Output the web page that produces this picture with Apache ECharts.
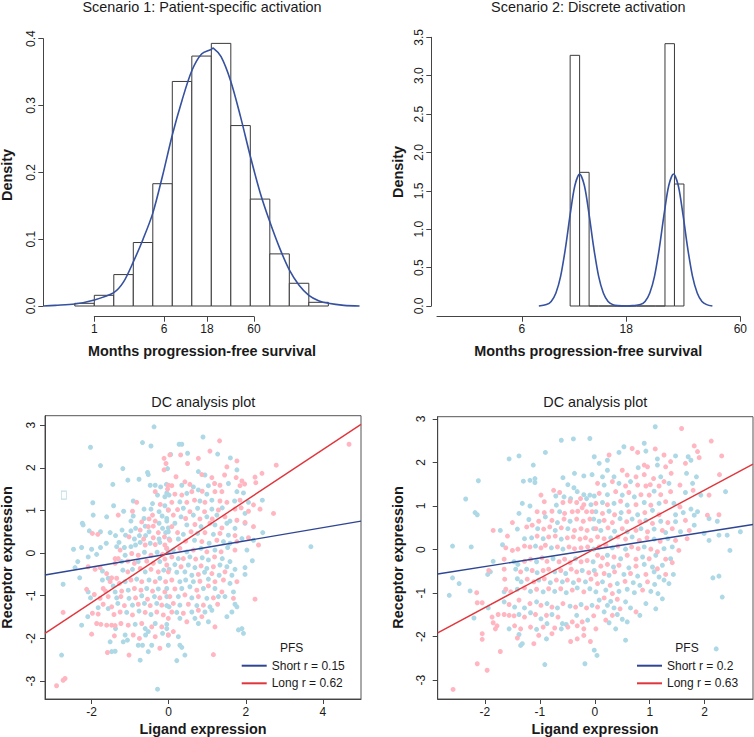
<!DOCTYPE html>
<html><head><meta charset="utf-8">
<script src="https://cdn.jsdelivr.net/npm/echarts@6/dist/echarts.min.js"></script>
<style>html,body{margin:0;padding:0;background:#fff}#c{width:754px;height:737px}</style>
</head><body><div id="c"></div>
<script>
// ---------- DATA ----------
// Scenario 1 histogram (x = ln(months))
const s1Breaks = [-0.5,0,0.5,1,1.5,2,2.5,3,3.5,4,4.5,5,5.5,6];
const s1Density = [0.004,0.016,0.047,0.095,0.183,0.336,0.374,0.393,0.270,0.160,0.078,0.034,0.0055];
const s1Curve = [[-1.3,0],[-1.0,0.001],[-0.5,0.003],[0,0.009],[0.5,0.020],[0.75,0.036],[1.0,0.066],[1.25,0.100],[1.5,0.139],[1.75,0.195],[2.0,0.256],[2.25,0.308],[2.5,0.352],[2.75,0.377],[3.0,0.384],[3.05,0.386],[3.25,0.373],[3.5,0.336],[3.75,0.283],[4.0,0.224],[4.25,0.170],[4.5,0.126],[4.75,0.087],[5.0,0.054],[5.25,0.031],[5.5,0.016],[5.75,0.008],[6.0,0.004],[6.4,0.001],[6.8,0]];
const s1Ticks = [1,6,18,60];
// Scenario 2 histogram
const s2Breaks = [2.3,2.4,2.5,2.6,2.7,2.8,2.9,3.0,3.1,3.2,3.3,3.4,3.5];
const s2Density = [3.265,1.741,0,0,0,0,0,0,0,0,3.417,1.589];
const s2Curve = [[1.97,0],[2.05,0.018],[2.10,0.06],[2.15,0.17],[2.20,0.39],[2.25,0.75],[2.30,1.19],[2.35,1.57],[2.40,1.72],[2.45,1.57],[2.50,1.19],[2.55,0.75],[2.60,0.39],[2.65,0.17],[2.70,0.06],[2.75,0.018],[2.80,0.005],[2.90,0],[2.96,0.005],[3.04,0.018],[3.09,0.06],[3.14,0.17],[3.19,0.39],[3.24,0.75],[3.29,1.19],[3.34,1.57],[3.39,1.72],[3.44,1.57],[3.49,1.19],[3.54,0.75],[3.59,0.39],[3.64,0.17],[3.69,0.06],[3.74,0.018],[3.80,0]];
const s2Ticks = [6,18,60];
const s1YTicks = [0,0.1,0.2,0.3,0.4];
const s2YTicks = [0,0.5,1,1.5,2,2.5,3,3.5];
// DC plot 1
const blXTicks = [-2,0,2,4];
const blYTicks = [-3,-2,-1,0,1,2,3];
const blShort = [[-0.38,2.96],[-0.68,2.59],[-0.46,2.51],[-2.03,2.48],[-1.77,2.05],[-1.19,1.98],[-0.55,1.89],[-0.53,1.84],[-1.06,1.71],[-0.77,1.73],[-1.45,1.61],[-0.48,1.59],[-0.35,1.59],[-0.21,1.55],[-0.06,1.61],[-0.29,1.36],[-0.10,1.32],[0.01,1.36],[-0.92,1.22],[-1.97,1.18],[-0.42,1.16],[-0.10,1.11],[-1.43,1.11],[-1.17,0.98],[-0.64,1.03],[-0.46,1.03],[-0.25,0.97],[-0.01,1.01],[-1.96,0.89],[-1.61,0.85],[-0.92,0.87],[-0.64,0.81],[-0.17,0.87],[-2.24,0.70],[-2.22,0.66],[-0.98,0.75],[-0.25,0.70],[-0.05,0.75],[-0.61,0.63],[-0.16,0.58],[-0.01,0.59],[-2.06,0.52],[-1.77,0.50],[-1.52,0.48],[-1.21,0.54],[-0.98,0.52],[-0.86,0.58],[-0.51,0.50],[-0.08,0.48],[-1.62,0.23],[-1.38,0.41],[-1.29,0.25],[-1.12,0.42],[-0.89,0.33],[-0.76,0.41],[-0.60,0.41],[-0.25,0.33],[0.01,0.33],[-2.47,0.09],[-2.26,0.13],[-2.00,0.09],[-1.77,0.13],[-1.35,0.15],[-1.15,0.13],[-0.98,0.15],[-0.86,0.19],[-0.74,0.25],[-0.48,0.23],[-0.23,0.25],[-0.05,0.11],[-1.87,-0.03],[-2.09,-0.09],[-1.13,-0.05],[-0.63,0.02],[-0.30,0.02],[-0.01,0.03],[-2.36,-0.20],[-2.43,-0.34],[-1.22,-0.20],[-0.79,-0.20],[-0.23,-0.20],[-2.31,-0.58],[-1.72,-0.42],[-1.57,-0.59],[-1.19,-0.40],[-0.94,-0.38],[-0.61,-0.44],[-0.13,-0.40],[0.01,-0.38],[-2.74,-0.73],[-1.72,-0.63],[-1.44,-0.77],[-1.13,-0.67],[-0.83,-0.61],[-0.51,-0.63],[-0.23,-0.59],[-2.09,-0.91],[-1.39,-0.91],[-1.05,-0.87],[-0.57,-0.83],[-0.27,-0.84],[-2.03,-1.05],[-1.35,-1.05],[-1.03,-1.06],[-0.70,-1.00],[-0.37,-1.02],[-0.05,-1.02],[-1.83,-1.28],[-1.32,-1.18],[-0.94,-1.22],[-0.63,-1.18],[-0.31,-1.18],[0.01,-1.26],[-2.10,-1.49],[-1.57,-1.30],[-1.09,-1.39],[-0.77,-1.36],[-0.46,-1.44],[-2.26,-1.69],[-1.38,-1.77],[-0.87,-1.67],[-0.61,-1.77],[-0.35,-1.65],[-0.05,-1.67],[-1.13,-1.92],[-1.18,-2.08],[-1.07,-2.04],[-0.60,-1.92],[-0.53,-1.84],[-0.16,-1.88],[-1.52,-2.08],[-1.48,-2.31],[-1.39,-2.30],[-0.79,-2.16],[-0.68,-2.16],[-0.44,-2.16],[-0.01,-2.16],[-2.78,-2.39],[-0.74,-2.51],[-0.53,-2.31],[-0.29,-3.19],
[0.89,2.72],[0.27,2.55],[0.34,2.55],[0.05,2.31],[0.49,2.34],[1.27,2.32],[1.60,2.23],[0.77,1.91],[0.94,1.83],[1.77,1.95],[-0.03,1.98],[0.34,1.59],[0.64,1.55],[1.03,1.58],[1.55,1.63],[-0.05,1.41],[0.47,1.40],[0.77,1.48],[0.99,1.38],[1.77,1.44],[1.94,1.41],[0.29,1.20],[0.81,1.22],[1.12,1.24],[1.71,1.22],[2.07,1.19],[2.43,1.24],[0.38,1.05],[0.75,1.05],[1.12,1.03],[1.39,1.06],[1.98,0.93],[-0.05,0.81],[0.32,0.85],[0.64,0.89],[0.99,0.85],[1.25,0.89],[1.59,0.75],[0.16,0.70],[0.47,0.66],[0.84,0.62],[1.20,0.66],[1.51,0.70],[1.72,0.58],[1.98,0.70],[2.44,0.48],[-0.01,0.50],[0.38,0.44],[0.75,0.46],[1.16,0.44],[1.55,0.42],[1.90,0.34],[2.20,0.30],[0.25,0.33],[0.67,0.30],[1.05,0.23],[1.42,0.27],[1.59,0.23],[2.03,0.07],[3.69,0.15],[0.12,0.07],[0.47,0.03],[0.84,0.11],[1.20,0.07],[1.53,0.13],[0.25,-0.13],[0.55,-0.09],[0.87,-0.11],[1.03,-0.16],[1.39,-0.13],[1.59,-0.20],[2.17,-0.18],[0.16,-0.27],[0.51,-0.28],[0.68,-0.34],[0.99,-0.36],[1.33,-0.28],[1.51,-0.32],[1.72,-0.38],[1.98,-0.34],[0.21,-0.45],[0.42,-0.44],[0.60,-0.52],[0.93,-0.45],[1.31,-0.52],[1.64,-0.52],[1.98,-0.50],[0.29,-0.67],[0.44,-0.63],[0.64,-0.67],[1.03,-0.61],[1.59,-0.71],[-0.05,-0.83],[0.34,-0.83],[0.55,-0.79],[0.90,-0.83],[1.20,-0.83],[1.68,-0.91],[0.25,-1.02],[0.60,-1.05],[0.99,-1.06],[1.29,-1.02],[1.46,-1.02],[-0.05,-1.23],[0.29,-1.22],[0.73,-1.23],[1.07,-1.26],[1.72,-1.20],[1.77,-1.26],[0.21,-1.39],[0.60,-1.38],[0.94,-1.38],[1.12,-1.34],[1.51,-1.49],[1.64,-1.38],[0.29,-1.53],[0.68,-1.53],[1.03,-1.61],[0.77,-1.65],[1.90,-1.77],[1.81,-1.80],[1.94,-1.88],[-0.05,-1.77],[-0.01,-1.92],[0.25,-1.96],[0.29,-2.16],[0.34,-2.21],[0.42,-2.39],[0.21,-2.52]];
const blLong = [[-0.12,2.22],[0.03,2.30],[-0.12,1.95],[-0.35,1.44],[-0.03,1.50],[-0.83,1.19],[-0.22,1.14],[-0.94,0.98],[-0.42,0.89],[-1.31,0.89],[-0.51,0.80],[-0.70,0.73],[-0.35,0.75],[-0.53,0.62],[-0.40,0.63],[-1.98,0.46],[-1.84,0.44],[-0.74,0.54],[-0.27,0.48],[-1.03,0.38],[-0.65,0.33],[-0.40,0.36],[-0.11,0.38],[-1.26,0.07],[-0.61,0.19],[-0.35,0.20],[-0.10,0.19],[-1.39,-0.13],[-1.31,-0.13],[-0.96,-0.01],[-0.79,-0.05],[-0.46,-0.05],[-0.16,-0.03],[-2.09,-0.32],[-1.91,-0.38],[-1.78,-0.34],[-1.39,-0.24],[-1.06,-0.19],[-0.89,-0.24],[-0.57,-0.19],[-0.40,-0.24],[-0.10,-0.14],[-1.61,-0.48],[-1.48,-0.58],[-1.35,-0.59],[-1.06,-0.44],[-0.74,-0.36],[-0.46,-0.38],[-0.27,-0.44],[-1.52,-0.67],[-1.28,-0.71],[-0.98,-0.63],[-0.70,-0.67],[-0.35,-0.67],[-0.08,-0.67],[-2.13,-0.85],[-1.70,-0.83],[-1.64,-0.89],[-1.22,-0.89],[-0.89,-0.83],[-0.72,-0.87],[-0.42,-0.89],[-0.10,-0.91],[-1.93,-0.97],[-1.78,-1.06],[-1.57,-1.02],[-1.24,-1.02],[-0.86,-1.05],[-0.55,-1.08],[-0.23,-1.05],[-1.70,-1.20],[-1.48,-1.26],[-1.15,-1.23],[-0.79,-1.20],[-0.48,-1.23],[-0.18,-1.22],[-2.74,-1.39],[-1.98,-1.41],[-1.83,-1.43],[-1.42,-1.44],[-1.26,-1.38],[-0.94,-1.45],[-0.61,-1.39],[-0.31,-1.38],[-0.14,-1.45],[-1.87,-1.65],[-1.76,-1.67],[-1.61,-1.69],[-1.48,-1.69],[-1.39,-1.70],[-1.24,-1.65],[-1.05,-1.69],[-0.70,-1.65],[-0.44,-1.73],[-0.18,-1.73],[-2.00,-1.90],[-1.41,-1.94],[-0.92,-1.92],[-0.76,-2.00],[-0.35,-1.96],[-0.01,-1.92],[-1.59,-2.33],[-0.23,-2.23],[-1.03,-2.39],[-2.69,-2.94],[-2.74,-2.98],[-2.91,-3.11],
[1.32,2.63],[4.68,2.55],[0.31,2.30],[1.07,2.39],[0.77,2.22],[0.49,2.10],[-0.07,2.10],[1.77,2.16],[0.86,1.84],[1.51,2.02],[1.45,1.83],[1.12,1.77],[1.75,1.77],[1.90,1.69],[2.24,1.78],[2.42,1.87],[2.79,2.06],[0.19,1.79],[-0.01,1.59],[0.08,1.58],[0.42,1.67],[0.55,1.61],[1.19,1.63],[1.33,1.59],[1.85,1.58],[1.97,1.62],[2.26,1.65],[0.16,1.38],[0.34,1.36],[0.60,1.44],[0.87,1.45],[1.20,1.44],[1.38,1.44],[0.08,1.19],[0.47,1.19],[0.67,1.24],[0.94,1.19],[1.33,1.22],[1.51,1.19],[1.85,1.24],[2.20,1.13],[-0.01,1.01],[0.23,1.02],[0.55,0.97],[0.93,0.97],[1.29,1.01],[1.72,1.03],[1.88,1.06],[2.07,0.98],[2.37,1.03],[2.72,0.93],[0.12,0.89],[0.44,0.81],[0.81,0.80],[1.13,0.80],[1.46,0.85],[1.77,0.77],[1.98,0.72],[0.08,0.62],[0.68,0.67],[1.07,0.70],[1.38,0.59],[2.20,0.62],[0.23,0.48],[0.58,0.50],[0.94,0.48],[1.33,0.46],[1.72,0.41],[2.07,0.36],[0.03,0.30],[0.44,0.28],[0.86,0.27],[1.25,0.30],[1.77,0.27],[2.33,0.19],[-0.05,0.11],[0.29,0.11],[0.64,0.07],[0.99,0.03],[1.36,0.03],[1.72,0.07],[0.08,-0.09],[0.38,-0.13],[0.70,-0.14],[1.19,-0.09],[-0.05,-0.28],[0.32,-0.32],[0.84,-0.30],[1.16,-0.32],[-0.01,-0.44],[0.77,-0.50],[1.12,-0.48],[1.46,-0.44],[0.08,-0.63],[0.81,-0.66],[1.20,-0.67],[1.42,-0.63],[1.77,-0.67],[0.16,-0.84],[0.73,-0.87],[1.03,-0.77],[1.38,-0.91],[0.03,-1.02],[0.42,-0.98],[0.77,-1.02],[1.16,-1.05],[1.68,-1.06],[0.12,-1.18],[0.51,-1.20],[0.90,-1.22],[1.27,-1.20],[2.24,-1.08],[0.08,-1.38],[0.38,-1.41],[0.77,-1.34],[-0.01,-1.53],[0.47,-1.61],[0.86,-1.49],[1.20,-1.73],[0.12,-1.84],[1.16,-2.38]];
const blStray = [[-2.72,1.36]];
const blLineShort = [[-3.21,-0.515],[4.99,0.75]];
const blLineLong = [[-3.21,-1.88],[4.99,3.016]];
const blNames = ['Short r = 0.15','Long r = 0.62'];
// DC plot 2
const brXTicks = [-2,-1,0,1,2];
const brYTicks = [-3,-2,-1,0,1,2,3];
const brShort = [[-0.61,2.51],[-0.39,2.54],[-0.09,2.55],[-0.90,2.23],[-1.56,2.08],[-1.38,2.15],[-0.01,2.13],[-1.12,1.94],[-2.12,1.58],[-0.58,1.65],[-0.37,1.75],[-0.20,1.69],[-0.05,1.72],[-1.30,1.57],[-1.18,1.59],[-1.09,1.63],[-1.09,1.54],[-0.49,1.49],[-0.38,1.42],[-0.32,1.33],[-0.20,1.26],[-0.09,1.25],[-0.01,1.23],[-2.35,1.16],[-0.71,1.23],[-0.56,1.21],[-0.44,1.17],[-0.15,1.17],[-1.32,1.06],[-1.18,1.00],[-0.70,1.02],[-0.07,1.03],[-2.18,0.85],[-2.14,0.80],[-1.38,0.83],[-0.64,0.87],[-1.20,0.69],[-0.90,0.75],[-0.68,0.62],[-0.45,0.65],[-0.02,0.70],[-1.72,0.44],[-1.41,0.47],[-1.04,0.48],[-0.72,0.44],[-0.49,0.48],[-0.02,0.48],[-1.28,0.25],[-1.15,0.27],[-0.94,0.25],[-0.61,0.24],[-2.59,0.08],[-2.25,0.06],[-1.68,0.11],[-1.08,0.08],[-0.79,0.04],[-0.58,0.01],[-0.02,0.01],[-1.85,-0.27],[-1.95,-0.57],[-1.90,-0.51],[-1.47,-0.28],[-1.40,-0.34],[-1.06,-0.28],[-0.76,-0.21],[-0.35,-0.21],[-0.03,-0.28],[-2.59,-0.65],[-2.47,-0.78],[-2.65,-1.05],[-1.44,-0.45],[-1.24,-0.45],[-1.05,-0.53],[-0.73,-0.51],[-0.53,-0.55],[-0.23,-0.48],[-0.01,-0.48],[-1.41,-0.67],[-1.34,-0.74],[-1.02,-0.70],[-0.81,-0.76],[-0.59,-0.74],[-0.39,-0.76],[-0.17,-0.74],[-2.27,-0.95],[-1.65,-0.97],[-1.41,-0.91],[-1.17,-0.96],[-0.94,-0.97],[-0.73,-0.96],[-0.52,-0.99],[-0.32,-0.88],[-0.09,-0.90],[-1.94,-1.34],[-1.65,-1.20],[-1.46,-1.32],[-1.28,-1.34],[-1.06,-1.20],[-0.87,-1.24],[-0.68,-1.34],[-0.45,-1.30],[-0.25,-1.26],[-0.05,-1.28],[-2.20,-1.57],[-1.56,-1.82],[-1.38,-1.49],[-1.17,-1.45],[-0.98,-1.59],[-0.78,-1.49],[-0.59,-1.70],[-0.52,-1.72],[-0.33,-1.51],[-0.13,-1.62],[-1.06,-1.83],[-0.87,-1.70],[-0.61,-1.82],[-1.38,-1.95],[-1.32,-2.16],[-1.35,-2.20],[-0.88,-2.05],[-0.01,-2.31],[-0.91,-2.64],[-0.18,-2.62],
[1.10,2.82],[0.90,2.44],[0.53,2.36],[0.93,2.26],[0.44,2.23],[1.47,2.15],[1.70,2.13],[0.23,2.05],[0.08,1.98],[1.14,2.08],[0.23,1.82],[0.79,1.88],[1.14,1.94],[1.75,2.05],[0.14,1.67],[0.35,1.67],[1.20,1.67],[1.67,1.75],[1.85,1.67],[0.17,1.48],[0.44,1.52],[0.65,1.56],[1.35,1.52],[1.78,1.52],[1.93,1.25],[0.23,1.26],[0.50,1.25],[0.72,1.21],[1.08,1.34],[1.65,1.31],[2.38,1.33],[0.14,1.08],[0.35,1.06],[0.59,1.02],[0.90,1.08],[1.17,1.06],[1.44,1.06],[1.75,0.93],[1.87,0.87],[0.02,0.87],[0.26,0.88],[0.48,0.85],[0.78,0.80],[1.05,0.90],[1.47,0.80],[1.61,0.85],[1.81,0.79],[0.08,0.65],[0.46,0.71],[0.68,0.70],[0.93,0.67],[1.20,0.65],[1.47,0.64],[1.81,0.56],[2.08,0.71],[2.23,0.65],[0.11,0.44],[0.36,0.42],[0.59,0.41],[0.84,0.48],[1.08,0.47],[1.29,0.39],[1.56,0.41],[1.99,0.37],[2.08,0.21],[2.26,0.33],[2.41,0.33],[2.65,0.41],[0.29,0.27],[0.68,0.29],[1.08,0.24],[1.33,0.25],[0.32,0.04],[0.56,0.01],[0.90,0.06],[1.26,0.02],[1.41,0.06],[2.46,-0.02],[0.23,-0.13],[0.47,-0.21],[0.87,-0.17],[1.11,-0.13],[1.38,-0.21],[0.34,-0.40],[0.62,-0.42],[0.90,-0.34],[1.05,-0.40],[1.23,-0.36],[0.26,-0.59],[0.53,-0.57],[0.78,-0.61],[1.08,-0.51],[1.17,-0.63],[1.43,-0.57],[2.15,-0.65],[2.26,-0.61],[0.14,-0.74],[0.41,-0.78],[0.70,-0.76],[0.82,-0.82],[1.09,-0.80],[1.26,-0.70],[1.35,-0.78],[0.02,-0.97],[0.20,-0.93],[0.44,-0.96],[0.59,-0.91],[0.72,-0.99],[1.02,-0.96],[1.15,-1.01],[2.32,-1.09],[0.08,-1.16],[0.29,-1.19],[0.56,-1.20],[0.93,-1.24],[1.23,-1.13],[0.23,-1.28],[0.35,-1.34],[0.65,-1.34],[0.82,-1.51],[1.11,-1.36],[0.17,-1.43],[0.41,-1.49],[0.50,-1.60],[0.59,-1.66],[0.26,-1.68],[0.38,-1.82],[0.56,-2.08],[0.04,-2.43],[2.21,-2.28]];
const brLong = [[-0.75,1.36],[-0.64,1.31],[-0.98,1.25],[-0.26,1.17],[-0.92,1.10],[-0.58,1.08],[-0.45,1.11],[-0.33,1.08],[-0.20,1.03],[-0.23,0.96],[-1.05,0.87],[-0.92,0.85],[-0.78,0.88],[-0.55,0.83],[-0.41,0.87],[-0.31,0.88],[-0.15,0.87],[-0.05,0.87],[-1.02,0.65],[-0.78,0.67],[-0.56,0.70],[-0.33,0.70],[-0.21,0.65],[-0.09,0.70],[-1.50,0.62],[-1.85,0.44],[-1.24,0.52],[-1.14,0.56],[-0.93,0.47],[-0.82,0.52],[-0.61,0.50],[-0.37,0.44],[-0.25,0.48],[-0.14,0.44],[-1.59,0.31],[-1.05,0.31],[-0.84,0.29],[-0.72,0.31],[-0.50,0.27],[-0.39,0.29],[-0.27,0.24],[-0.17,0.27],[-0.07,0.21],[-1.62,0.04],[-1.50,-0.02],[-1.40,0.01],[-1.28,0.08],[-1.18,0.06],[-0.98,0.04],[-0.90,0.10],[-0.68,0.06],[-0.47,0.06],[-0.37,0.02],[-0.25,0.04],[-0.13,0.06],[-1.93,-0.48],[-1.65,-0.22],[-1.28,-0.27],[-1.17,-0.22],[-0.96,-0.19],[-0.87,-0.27],[-0.65,-0.28],[-0.55,-0.22],[-0.45,-0.30],[-0.25,-0.28],[-0.14,-0.25],[-1.65,-0.45],[-1.35,-0.51],[-1.14,-0.48],[-0.94,-0.48],[-0.84,-0.45],[-0.62,-0.48],[-0.43,-0.45],[-0.33,-0.51],[-0.11,-0.53],[-1.64,-0.68],[-1.23,-0.68],[-1.11,-0.74],[-0.92,-0.67],[-0.70,-0.70],[-0.50,-0.70],[-0.29,-0.70],[-0.07,-0.68],[-2.15,-0.99],[-1.62,-0.91],[-1.53,-0.97],[-1.28,-0.88],[-1.06,-0.91],[-0.84,-0.90],[-0.62,-0.90],[-0.41,-0.93],[-0.20,-0.97],[-2.14,-1.22],[-2.05,-1.22],[-1.56,-1.26],[-1.38,-1.16],[-1.18,-1.24],[-0.98,-1.28],[-0.78,-1.32],[-0.58,-1.24],[-0.35,-1.32],[-0.15,-1.34],[-1.87,-1.55],[-1.76,-1.49],[-1.65,-1.49],[-1.56,-1.51],[-1.47,-1.52],[-1.28,-1.55],[-1.08,-1.49],[-0.88,-1.51],[-0.67,-1.55],[-0.41,-1.66],[-0.23,-1.66],[-0.02,-1.52],[-1.85,-1.68],[-1.78,-1.75],[-1.81,-1.82],[-1.46,-1.75],[-1.35,-1.82],[-1.17,-1.78],[-0.94,-1.78],[-0.73,-1.80],[-0.49,-1.78],[-0.32,-1.75],[-0.20,-1.82],[-2.05,-1.93],[-2.05,-2.06],[-1.41,-2.03],[-1.11,-2.16],[-1.02,-1.97],[-0.78,-1.93],[-0.44,-2.11],[-0.32,-2.05],[-0.20,-1.97],[-0.08,-2.11],[-1.72,-2.34],[-2.14,-2.62],[-1.96,-2.77],[-2.58,-3.21],
[1.58,2.78],[2.12,2.49],[0.68,2.32],[1.10,2.31],[1.81,2.38],[1.87,2.25],[0.26,2.17],[0.78,2.23],[1.26,2.17],[1.90,2.11],[2.31,2.15],[0.90,1.94],[1.38,2.02],[0.50,1.82],[0.96,1.90],[1.29,1.90],[1.65,1.98],[0.59,1.71],[0.75,1.67],[0.90,1.72],[1.07,1.63],[1.39,1.75],[2.27,1.72],[0.05,1.52],[0.32,1.56],[0.56,1.46],[0.78,1.48],[0.93,1.46],[1.01,1.49],[1.17,1.46],[1.26,1.56],[1.55,1.48],[0.08,1.29],[0.38,1.33],[0.62,1.31],[0.84,1.26],[0.99,1.25],[1.20,1.26],[1.38,1.33],[1.79,1.36],[2.08,1.25],[0.02,1.06],[0.23,1.03],[0.47,1.11],[0.75,1.03],[1.02,1.02],[1.29,1.10],[1.55,0.98],[2.26,0.80],[0.14,0.83],[0.36,0.80],[0.62,0.87],[0.91,0.85],[1.17,0.80],[2.05,0.79],[0.17,0.67],[0.32,0.62],[0.58,0.64],[0.82,0.64],[1.05,0.60],[1.33,0.62],[1.65,0.67],[0.02,0.48],[0.24,0.50],[0.50,0.48],[0.75,0.44],[0.96,0.41],[1.23,0.44],[1.41,0.48],[1.72,0.44],[0.05,0.29],[0.17,0.25],[0.42,0.29],[0.56,0.24],[0.81,0.21],[0.95,0.27],[1.19,0.19],[1.47,0.21],[1.68,0.25],[0.08,0.06],[0.20,0.10],[0.42,0.08],[0.67,0.06],[0.79,0.02],[1.02,0.01],[1.14,-0.05],[1.53,-0.02],[0.05,-0.13],[0.14,-0.19],[0.35,-0.17],[0.59,-0.13],[0.75,-0.22],[0.99,-0.21],[1.29,-0.22],[0.11,-0.38],[0.23,-0.34],[0.44,-0.36],[0.75,-0.38],[1.14,-0.44],[1.41,-0.30],[0.02,-0.57],[0.17,-0.55],[0.36,-0.51],[0.65,-0.55],[0.93,-0.57],[1.29,-0.57],[0.05,-0.78],[0.28,-0.82],[0.55,-0.73],[0.96,-0.74],[0.32,-1.01],[0.87,-0.93],[0.17,-1.11],[0.41,-1.14],[0.05,-1.32],[0.46,-1.36],[0.75,-1.43],[0.32,-1.51],[0.20,-1.62],[0.02,-1.82]];
const brLineShort = [[-2.86,-0.56],[2.88,0.575]];
const brLineLong = [[-2.86,-1.91],[2.88,1.96]];
const brNames = ['Short r = 0.2','Long r = 0.63'];

// ---------- STYLE ----------
const FONT = "'Liberation Sans', Arial, Helvetica, sans-serif";
const AXC = '#444', TXT = '#1a1a1a';
const BLUE_PT = '#ADD8E6', PINK_PT = '#FFB6C1';
const BLUE_LN = '#2E4593', RED_LN = '#E0353B', CURVE = '#35519F';

function xAxis(gi, min, max, ticks, fmt, offset, margin) {
  return { type:'value', gridIndex:gi, min, max, offset, scale:false,
    axisLine:{show:true, onZero:false, lineStyle:{color:AXC, width:1}},
    axisTick:{show:true, length:5, customValues:ticks, lineStyle:{color:AXC, width:1}},
    axisLabel:{show:true, customValues:ticks, formatter:fmt, margin, color:TXT, fontSize:12, fontFamily:FONT},
    splitLine:{show:false} };
}
function yAxis(gi, min, max, ticks, fmt, offset, margin) {
  const a = xAxis(gi, min, max, ticks, fmt, offset, margin);
  a.axisLabel.rotate = 90;
  return a;
}
function hist(breaks, dens, gi) {
  return { type:'custom', xAxisIndex:gi, yAxisIndex:gi, clip:false, silent:true,
    data: dens.map((d,i)=>[breaks[i], breaks[i+1], d]),
    encode:{x:[0,1], y:2},
    renderItem(params, api) {
      const p0 = api.coord([api.value(0), api.value(2)]);
      const p1 = api.coord([api.value(1), 0]);
      return { type:'rect', shape:{x:p0[0], y:p0[1], width:p1[0]-p0[0], height:p1[1]-p0[1]},
        style:{fill:'#fff', stroke:'#3a3a3a', lineWidth:1} };
    } };
}
// density curve drawn as one smooth polyline through the data points (no clipping to the axis range)
function curve(data, gi) {
  return { type:'custom', xAxisIndex:gi, yAxisIndex:gi, clip:false, silent:true, z:5,
    data, encode:{x:0, y:1},
    renderItem(params, api) {
      if (params.dataIndex !== 0) return null;
      const points = data.map(d => api.coord(d));
      return { type:'polyline', shape:{points, smooth:0.3},
        style:{stroke:CURVE, fill:null, lineWidth:1.6} };
    } };
}
function pts(data, gi, color) {
  return { type:'scatter', xAxisIndex:gi, yAxisIndex:gi, data, symbol:'circle', symbolSize:5,
    itemStyle:{color, opacity:1}, silent:true, emphasis:{disabled:true} };
}
function regLine(name, data, gi, color) {
  return { type:'line', name, xAxisIndex:gi, yAxisIndex:gi, data, showSymbol:false, symbol:'none',
    color, lineStyle:{color, width:1.4}, silent:true, z:6 };
}
const lg = v => String(Math.round(Math.exp(v)));
const f1 = v => v.toFixed(1);
const fi = v => String(v);

function txt(text, x, y, opts={}) {
  return { type:'text', x, y, rotation: opts.rot ? Math.PI/2 : 0, silent:true,
    style:{ text, fill:TXT, fontSize: opts.size || 14.4, fontWeight: opts.bold ? 'bold' : 'normal',
      fontFamily: FONT, textAlign:'center', textVerticalAlign:'middle', align:'center', verticalAlign:'middle' } };
}

const option = {
  animation:false,
  backgroundColor:'#fff',
  grid:[
    {left:94.3, top:38.7, width:159.7, height:267.3, show:false, outerBoundsMode:'none', containLabel:false},
    {left:437, top:37.3, width:303.3, height:268.7, show:false, outerBoundsMode:'none', containLabel:false},
    {left:45, top:415.7, width:316, height:283.3, show:true, borderColor:'#555', borderWidth:1, backgroundColor:'transparent', outerBoundsMode:'none', containLabel:false},
    {left:437.7, top:416.7, width:315.3, height:282.3, show:true, borderColor:'#555', borderWidth:1, backgroundColor:'transparent', outerBoundsMode:'none', containLabel:false}
  ],
  xAxis:[
    xAxis(0, 0, Math.log(60), s1Ticks.map(Math.log), lg, 10.7, 6),
    xAxis(1, 0.896, Math.log(60), s2Ticks.map(Math.log), lg, 10.7, 6),
    xAxis(2, -3.21, 4.99, blXTicks, fi, 0, 7),
    xAxis(3, -2.86, 2.88, brXTicks, fi, 0, 7)
  ],
  yAxis:[
    yAxis(0, 0, 0.4, s1YTicks, f1, 51, 6),
    yAxis(1, 0, 3.5, s2YTicks, f1, 5.7, 6),
    yAxis(2, -3.42, 3.22, blYTicks, fi, 0, 8),
    yAxis(3, -3.43, 3.05, brYTicks, fi, 0, 11)
  ],
  legend:[
    { data:blNames, left:241.7, top:658.7, orient:'vertical', icon:'rect', itemWidth:25, itemHeight:2, itemGap:3.6,
      padding:0, selectedMode:false, textStyle:{fontSize:12, color:TXT, fontFamily:FONT, lineHeight:14} },
    { data:brNames, left:637, top:658.7, orient:'vertical', icon:'rect', itemWidth:25, itemHeight:2, itemGap:3.6,
      padding:0, selectedMode:false, textStyle:{fontSize:12, color:TXT, fontFamily:FONT, lineHeight:14} }
  ],
  series:[
    hist(s1Breaks, s1Density, 0),
    curve(s1Curve, 0),
    hist(s2Breaks, s2Density, 1),
    curve(s2Curve, 1),
    pts(blShort, 2, BLUE_PT),
    pts(blLong, 2, PINK_PT),
    { type:'scatter', xAxisIndex:2, yAxisIndex:2, data:blStray, symbol:'rect', symbolSize:[5,8], silent:true,
      itemStyle:{color:'rgba(255,255,255,0)', borderColor:BLUE_PT, borderWidth:1} },
    regLine(blNames[0], blLineShort, 2, BLUE_LN),
    regLine(blNames[1], blLineLong, 2, RED_LN),
    pts(brShort, 3, BLUE_PT),
    pts(brLong, 3, PINK_PT),
    regLine(brNames[0], brLineShort, 3, BLUE_LN),
    regLine(brNames[1], brLineLong, 3, RED_LN)
  ],
  graphic:{ elements:[
    txt('Scenario 1: Patient-specific activation', 202, 7),
    txt('Scenario 2: Discrete activation', 588.3, 7),
    txt('DC analysis plot', 203.3, 401.7),
    txt('DC analysis plot', 595.3, 401.7),
    txt('Months progression-free survival', 202, 351, {bold:true}),
    txt('Months progression-free survival', 588.3, 351, {bold:true}),
    txt('Density', 6.5, 175, {bold:true, rot:true}),
    txt('Density', 398, 172, {bold:true, rot:true}),
    txt('Ligand expression', 203, 729, {bold:true}),
    txt('Ligand expression', 595, 729, {bold:true}),
    txt('Receptor expression', 7, 557.5, {bold:true, rot:true}),
    txt('Receptor expression', 397.8, 557.5, {bold:true, rot:true}),
    txt('PFS', 291.7, 647.7, {size:12}),
    txt('PFS', 687, 647.7, {size:12})
  ]}
};
const chart = echarts.init(document.getElementById('c'), null, {renderer:'svg', width:754, height:737});
chart.setOption(option);
</script>
</body></html>
